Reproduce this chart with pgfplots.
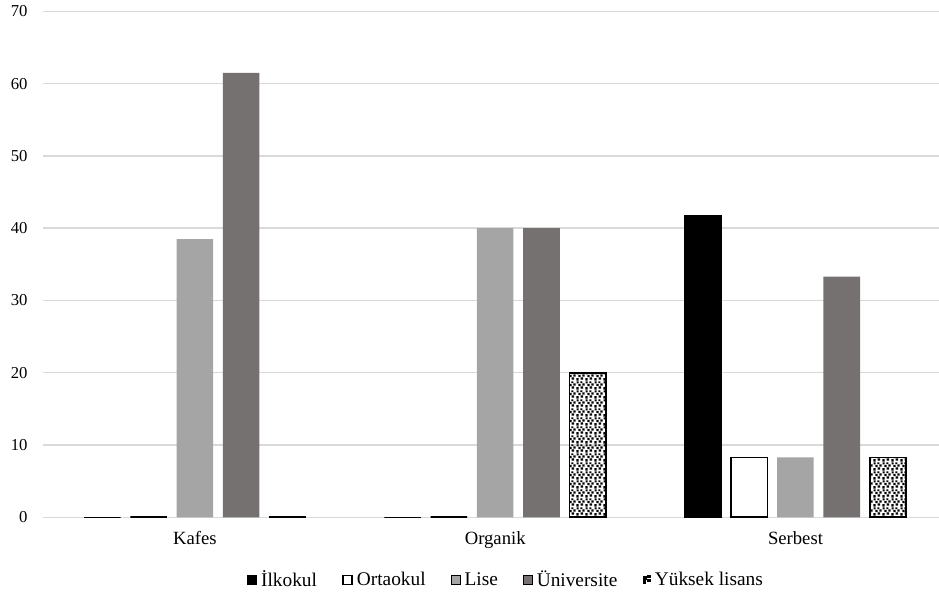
\documentclass[border=0pt]{standalone}
\usepackage{fontspec}
\setmainfont{Liberation Serif}
\usepackage{pgfplots}
\pgfplotsset{compat=1.18}
\usetikzlibrary{patterns,patterns.meta}

\definecolor{liseGray}{HTML}{A5A5A5}
\definecolor{uniGray}{HTML}{767171}
\definecolor{gridGray}{HTML}{D9D9D9}

% irregular square speckles used for the last series
\tikzdeclarepattern{
  name=speckle, type=uncolored,
  bottom left={(0pt,0pt)}, top right={(7pt,7pt)},
  tile size={(7pt,7pt)},
  code={
    \fill (0.3pt,0.4pt) rectangle ++(1.9pt,1.9pt);
    \fill (3.8pt,1.1pt) rectangle ++(1.9pt,1.9pt);
    \fill (1.9pt,3.2pt) rectangle ++(1.8pt,1.8pt);
    \fill (5.1pt,3.6pt) rectangle ++(1.8pt,1.8pt);
    \fill (0.5pt,5.3pt) rectangle ++(1.7pt,1.6pt);
    \fill (3.5pt,5.6pt) rectangle ++(1.7pt,1.3pt);
  }
}

\pgfplotsset{
  sqleg/.style={legend image code/.code={\draw[##1] (0pt,-3.4pt) rectangle (6.8pt,3.4pt);}},
  dotleg/.style={legend image code/.code={%
    \fill[black] (1.2pt,-2.6pt) rectangle ++(1.6pt,1.6pt);
    \fill[black] (4.4pt,-1.2pt) rectangle ++(1.6pt,1.6pt);
    \fill[black] (1.6pt,0.8pt) rectangle ++(1.6pt,1.6pt);
    \fill[black] (4.8pt,2.0pt) rectangle ++(1.4pt,1.4pt);}},
}

\begin{document}
\begin{tikzpicture}
\useasboundingbox (-32.5pt,-61.3pt) rectangle (671.8pt,388pt);
\begin{axis}[
  at={(0,0)}, anchor=south west,
  scale only axis,
  width=671.8pt, height=379.5pt,
  xmin=-0.505, xmax=2.478,
  ymin=0, ymax=70,
  ytick={0,10,...,70},
  xtick={0,1,2},
  xticklabels={Kafes,Organik,Serbest},
  axis line style={draw=none},
  major tick length=0pt,
  ymajorgrids,
  grid style={gridGray, line width=1.1pt},
  ybar=7.3pt, bar width=27.4pt,
  yticklabel style={font=\fontsize{12.5}{15}\selectfont, xshift=-8.3pt},
  xticklabel style={font=\fontsize{14}{16}\selectfont, yshift=-7pt},
  /pgf/number format/assume math mode=true,
  legend columns=-1,
  legend style={draw=none, fill=none,
    at={(0.517,0)}, anchor=center, yshift=-47pt,
    font=\fontsize{14.5}{17}\selectfont,
    nodes={inner sep=2pt},
    /tikz/every odd column/.append style={column sep=1pt},
    /tikz/every even column/.append style={column sep=17pt}},
]
% Kafes, Organik, Serbest
\addplot[fill=black, draw=black, line width=0.6pt, sqleg]
  coordinates {(0,0) (1,0) (2,41.7)};
\addplot[fill=white, draw=black, line width=1.2pt, sqleg]
  coordinates {(0,0) (1,0) (2,8.3)};
\addplot[fill=liseGray, draw=none, sqleg]
  coordinates {(0,38.5) (1,40) (2,8.3)};
\addplot[fill=uniGray, draw=none, sqleg]
  coordinates {(0,61.5) (1,40) (2,33.3)};
\addplot[pattern=speckle, pattern color=black, draw=black, line width=1.2pt, dotleg]
  coordinates {(0,0) (1,20) (2,8.3)};
\legend{İlkokul,Ortaokul,Lise,Üniversite,Yüksek lisans}
\end{axis}
\end{tikzpicture}
\end{document}
